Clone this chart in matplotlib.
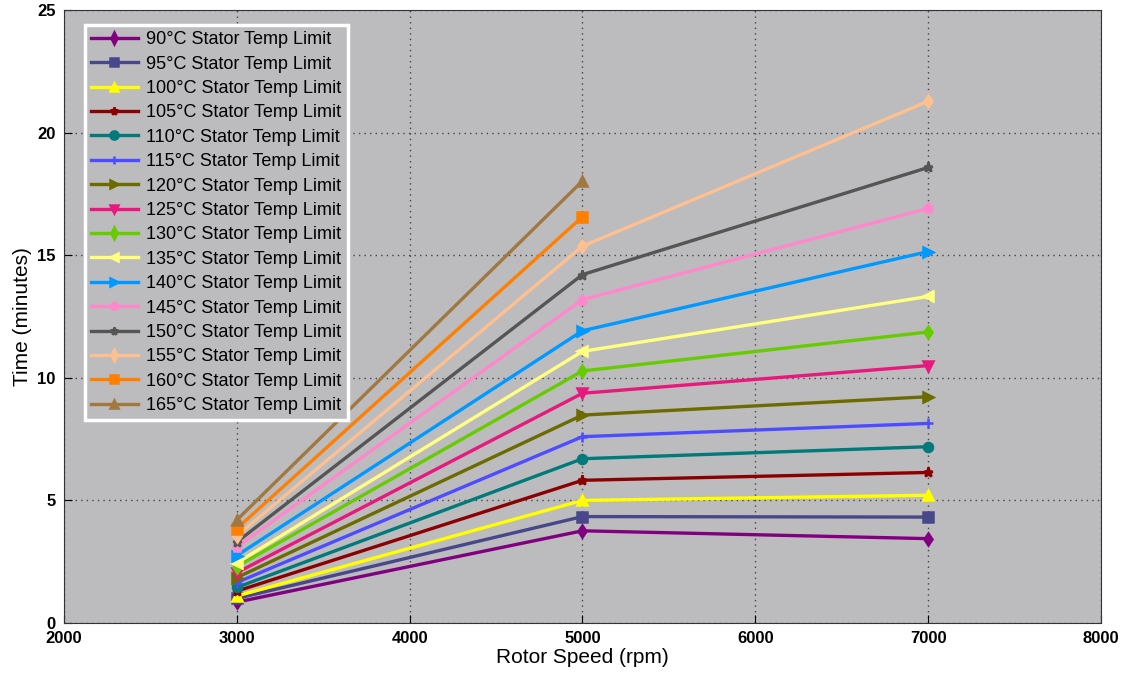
import matplotlib
matplotlib.use("Agg")
import matplotlib.pyplot as plt

plt.rcParams['font.family'] = ['Liberation Sans', 'DejaVu Sans']

speeds = [3000, 5000, 7000]
limits = [90, 95, 100, 105, 110, 115, 120, 125, 130, 135, 140, 145, 150, 155, 160, 165]
t3000 = [0.85, 1.0, 1.1, 1.3, 1.45, 1.65, 1.85, 2.05, 2.3, 2.45, 2.75, 3.1, 3.3, 3.55, 3.85, 4.2]
t5000 = [3.76, 4.34, 5.0, 5.82, 6.7, 7.6, 8.48, 9.37, 10.28, 11.08, 11.92, 13.19, 14.21, 15.37, 16.57, 18.03]
t7000 = [3.44, 4.32, 5.21, 6.14, 7.19, 8.14, 9.23, 10.5, 11.87, 13.32, 15.15, 16.91, 18.58, 21.28, None, None]

colors = ['#800080', '#47478a', '#ffff00', '#8b0000', '#007a7a', '#4d4dff',
          '#6b6b00', '#e6197d', '#66cc00', '#ffff80', '#0099ff', '#ff88cc',
          '#555555', '#ffc090', '#ff8000', '#a07840']
markers = ['d', 's', '^', '*', 'o', '+', '>', 'v', 'd', '<', '>', 'p', '*', 'd', 's', '^']

fig = plt.figure(figsize=(11.24, 6.74), dpi=100)
ax = fig.add_axes([0.0569, 0.0757, 0.9226, 0.9093])
ax.set_facecolor('#bcbbbe')

for i, lim in enumerate(limits):
    xs, ys = [], []
    for s, t in zip(speeds, [t3000[i], t5000[i], t7000[i]]):
        if t is not None:
            xs.append(s)
            ys.append(t)
    ax.plot(xs, ys, color=colors[i], marker=markers[i], linewidth=2.4,
            markersize=6.5, markeredgewidth=1.8, label=f'{lim}°C Stator Temp Limit')

ax.set_xlim(2000, 8000)
ax.set_ylim(0, 25)
ax.set_xticks([2000, 3000, 4000, 5000, 6000, 7000, 8000])
ax.set_yticks([0, 5, 10, 15, 20, 25])
ax.grid(True, linestyle=(0, (1, 3)), color='#444444', linewidth=1.0)
ax.tick_params(direction='in', length=6, labelsize=12)
ax.tick_params(axis='x', pad=6)
ax.tick_params(axis='y', pad=6)
for lbl in ax.get_xticklabels() + ax.get_yticklabels():
    lbl.set_fontweight('bold')
ax.set_xlabel('Rotor Speed (rpm)', fontsize=15, labelpad=1)
ax.set_ylabel('Time (minutes)', fontsize=15, labelpad=4)
for sp in ax.spines.values():
    sp.set_color('#333333')

leg = ax.legend(loc='upper left', bbox_to_anchor=(0.02, 0.976), fontsize=13,
                frameon=True, fancybox=False, handlelength=2.6, labelspacing=0.41,
                borderpad=0.35, handletextpad=0.45, borderaxespad=0.0,
                markerscale=0.9)
leg.get_frame().set_facecolor('#bcbbbe')
leg.get_frame().set_edgecolor('white')
leg.get_frame().set_linewidth(2.5)
leg.get_frame().set_alpha(1.0)

fig.savefig('out.png', dpi=100, facecolor='white')
